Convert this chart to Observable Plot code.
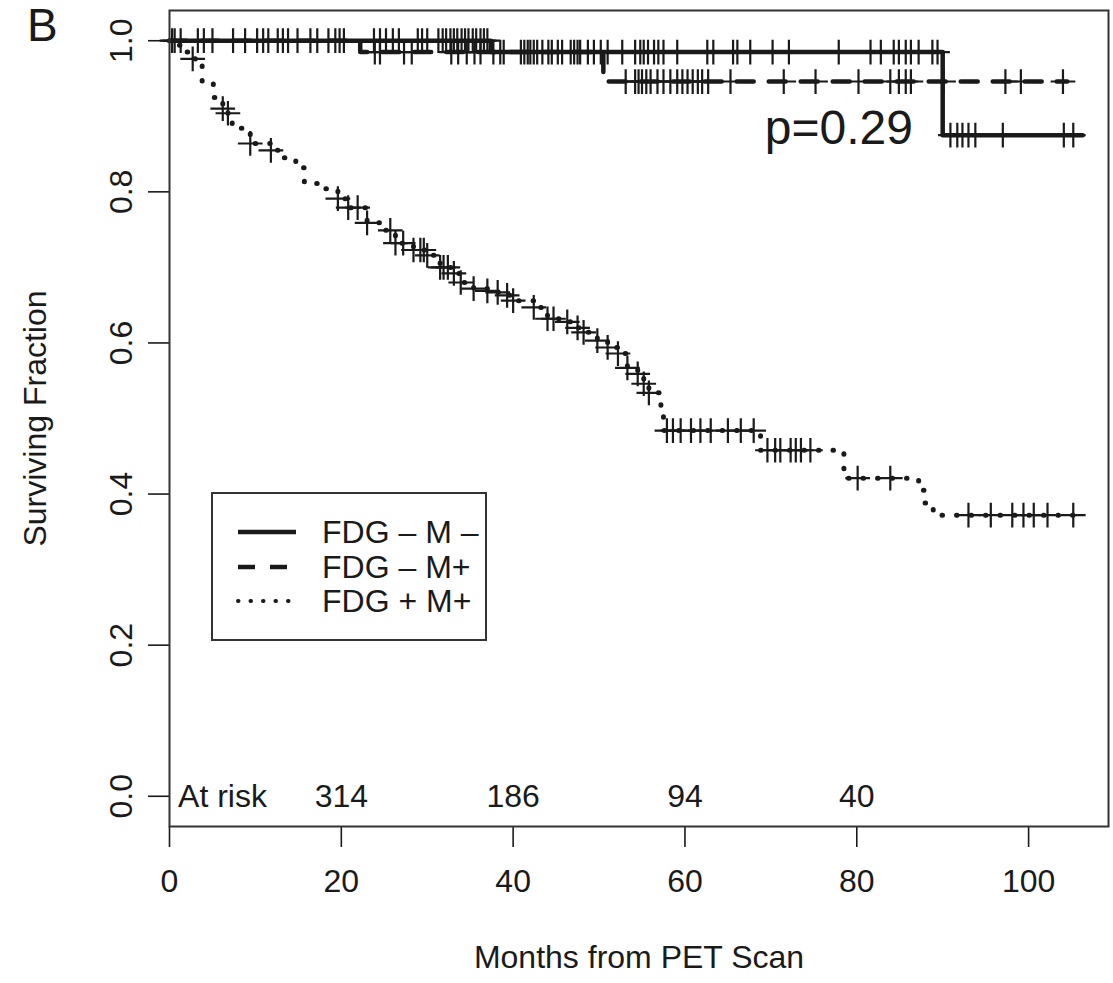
<!DOCTYPE html>
<html>
<head>
<meta charset="utf-8">
<script src="https://cdn.jsdelivr.net/npm/d3@7"></script>
<script src="https://cdn.jsdelivr.net/npm/@observablehq/plot@0.6"></script>
<style>
  body { margin: 0; background: #fff; }
  #wrap { position: relative; width: 1113px; height: 983px; font-family: "Liberation Sans", Arial, Helvetica, sans-serif; color: #1a1a1a; overflow: hidden; }
  #panel { position: absolute; left: 27px; top: 2px; font-size: 46px; line-height: 1; }
  #legend { position: absolute; left: 210px; top: 491px; overflow: visible; }
  #chart { position: absolute; left: 0; top: 0; }
</style>
</head>
<body>
<div id="wrap">
  <div id="chart"></div>
  <div id="panel">B</div>
  <svg id="legend" width="300" height="152"></svg>
</div>
<script>
// ---- Data ----
const xTicks = [0, 20, 40, 60, 80, 100];
const yTicks = [0.0, 0.2, 0.4, 0.6, 0.8, 1.0];

const groupNames = ["FDG \u2013 M \u2013", "FDG \u2013 M+", "FDG + M+"];

// FDG – M – (solid)
const solidTimes = [0, 37.4, 90.0, 106.3];
const solidSurv  = [1.0, 0.985, 0.875, 0.875];
const solidCensor = [0.3, 0.6, 1.3, 3.3, 4.0, 5.0, 7.4, 8.8, 10.2, 10.9, 11.5, 12.6, 13.2, 13.8, 14.9, 16.4, 17.2, 18.5, 19.3, 19.8, 20.3,
  23.8, 24.5, 25.2, 26.0, 26.7, 28.9, 29.4, 30.0, 31.3, 31.8, 32.2, 32.7, 33.1, 33.5, 34.0, 34.4, 34.8, 35.3, 35.7, 36.2, 36.6, 37.0,
  37.7, 38.5, 38.9, 40.9, 41.3, 41.7, 42.0, 42.4, 42.8, 43.4, 44.1, 44.5, 45.2, 45.7, 46.7, 47.1, 47.5, 47.8, 48.7, 49.4, 50.2, 51.0,
  52.7, 54.2, 54.8, 55.2, 55.7, 56.4, 56.9, 57.5, 59.1, 62.6, 63.3, 65.6, 66.1, 67.6, 70.2, 72.1, 77.9, 81.6, 82.8, 84.3, 84.9, 85.7,
  86.3, 87.2, 88.8, 89.4, 90.9, 91.7, 92.3, 93.0, 93.8, 97.0, 104.1, 105.2];

// FDG – M+ (dashed)
const dashTimes = [0, 22.2, 50.5, 104.5];
const dashSurv  = [1.0, 0.985, 0.946, 0.946];
const dashCensor = [23.9, 24.5, 27.3, 28.2, 32.8, 33.6, 34.6, 35.5, 36.2, 53.1, 54.2, 54.6, 55.0, 55.5, 56.0, 56.8, 57.5, 58.3, 59.1,
  59.7, 60.3, 60.9, 61.5, 62.0, 62.7, 65.3, 71.5, 75.2, 80.2, 83.9, 84.9, 85.7, 86.3, 90.1, 97.3, 99.1, 104.0];

// FDG + M+ (dotted)
const dotTimes = [0, 0.7, 1.5, 2.7, 3.0, 3.8, 5.1, 6.2, 6.8, 7.3, 9.4, 11.8, 12.9, 14.7, 15.7, 17.9, 19.6, 20.8, 23.0, 24.9, 26.3,
  28.4, 30.0, 31.5, 33.1, 33.9, 35.4, 37.0, 38.2, 39.3, 40.0, 42.4, 44.0, 45.5, 47.5, 48.2, 49.8, 51.0, 52.2, 53.3, 54.5, 55.2, 55.8,
  57.2, 57.5, 68.8, 78.5, 87.2, 87.9, 88.9, 106.4];
const dotSurv = [1.0, 0.994, 0.985, 0.976, 0.967, 0.945, 0.925, 0.910, 0.904, 0.884, 0.864, 0.855, 0.845, 0.832, 0.811, 0.804, 0.791,
  0.779, 0.759, 0.749, 0.732, 0.723, 0.716, 0.700, 0.692, 0.680, 0.672, 0.669, 0.667, 0.663, 0.656, 0.647, 0.632, 0.628, 0.620, 0.614,
  0.603, 0.594, 0.586, 0.567, 0.559, 0.546, 0.534, 0.513, 0.484, 0.458, 0.421, 0.405, 0.388, 0.372, 0.372];
const dotCensor = [2.7, 6.2, 6.8, 9.4, 11.8, 19.6, 20.8, 21.9, 23.0, 25.7, 26.3, 27.2, 28.4, 29.2, 29.6, 30.0, 31.5, 31.9, 32.4, 33.1,
  33.9, 35.4, 37.0, 38.2, 39.3, 40.0, 42.4, 44.0, 44.7, 46.3, 47.5, 48.2, 49.8, 51.0, 52.2, 53.3, 54.5, 55.2, 55.8, 57.9, 58.6, 59.5,
  60.7, 61.8, 63.0, 65.0, 66.5, 68.0, 69.6, 70.5, 71.1, 72.3, 72.9, 73.5, 74.6, 80.1, 83.9, 93.0, 95.6, 98.1, 99.4, 100.6, 102.2, 105.2];

const atRiskTimes  = [20, 40, 60, 80];
const atRiskCounts = [314, 186, 94, 40];
const pValueText = "p=0.29";

// ---- Build tables ----
const steps = (T, S) => T.map((t, i) => ({t, s: S[i]}));
const survAt = (T, S) => t => { let v = S[0]; for (let i = 0; i < T.length; i++) { if (T[i] <= t) v = S[i]; } return v; };
const cens = (C, T, S) => { const f = survAt(T, S); return C.map(t => ({t, s: f(t)})); };

const solid = steps(solidTimes, solidSurv);
const dashed = steps(dashTimes, dashSurv);
const dotted = steps(dotTimes, dotSurv);
const censAll = [
  ...cens(solidCensor, solidTimes, solidSurv),
  ...cens(dashCensor, dashTimes, dashSurv),
  ...cens(dotCensor, dotTimes, dotSurv)
];
const atRisk = atRiskTimes.map((t, i) => ({t, n: atRiskCounts[i]}));

const ink = "#1a1a1a";
const FONT = "'Liberation Sans', Arial, Helvetica, sans-serif";

const chart = Plot.plot({
  width: 1113,
  height: 983,
  marginLeft: 169,
  marginRight: 5,
  marginTop: 10,
  marginBottom: 157,
  x: {domain: [0, 109.3]},
  y: {domain: [-0.04, 1.04]},
  style: {fontFamily: FONT, fontSize: "32px", color: ink, background: "white", overflow: "visible"},
  marks: [
    Plot.axisX({ticks: xTicks, tickSize: 21, tickPadding: 22, tickFormat: d => String(d), label: null, strokeWidth: 1.6, fontSize: 32}),
    Plot.axisY({ticks: yTicks, tickSize: 21, tickFormat: () => "", label: null, strokeWidth: 1.6}),
    Plot.text(yTicks, {y: d => d, frameAnchor: "left", dx: -48, rotate: -90, text: d => d.toFixed(1), textAnchor: "middle", lineAnchor: "middle", fontSize: 32, fill: ink}),
    Plot.text(["Surviving Fraction"], {frameAnchor: "left", dx: -134, rotate: -90, textAnchor: "middle", lineAnchor: "middle", fontSize: 32, fill: ink}),
    Plot.text(["Months from PET Scan"], {frameAnchor: "bottom", dy: 131, textAnchor: "middle", lineAnchor: "middle", fontSize: 32, fill: ink}),
    Plot.line(solid, {x: "t", y: "s", curve: "step-after", stroke: ink, strokeWidth: 4.5}),
    Plot.line(dashed, {x: "t", y: "s", curve: "step-after", stroke: ink, strokeWidth: 4.5, strokeDasharray: "17,15"}),
    Plot.line(dotted, {x: "t", y: "s", curve: "step-after", stroke: ink, strokeWidth: 5, strokeLinecap: "round", strokeDasharray: "0.5,14"}),
    Plot.dot(censAll, {x: "t", y: "s", symbol: "plus", r: 8, stroke: ink, strokeWidth: 2.2}),
    Plot.text(atRisk, {x: "t", y: 0, text: d => String(d.n), textAnchor: "middle", lineAnchor: "middle", fontSize: 32, fill: ink}),
    Plot.text(["At risk"], {x: 1, y: 0, textAnchor: "start", lineAnchor: "middle", fontSize: 32, fill: ink}),
    Plot.text([pValueText], {x: 69.3, y: 0.883, textAnchor: "start", lineAnchor: "middle", fontSize: 48, fill: ink}),
    Plot.frame({stroke: "#333", strokeWidth: 2})
  ]
});
document.getElementById("chart").appendChild(chart);

// ---- Legend ----
const lg = d3.select("#legend");
lg.append("rect").attr("x", 2).attr("y", 2).attr("width", 274).attr("height", 147)
  .attr("fill", "white").attr("stroke", "#333").attr("stroke-width", 2);
const dashes = [null, "17,15", "0.5,12"];
const caps = ["butt", "butt", "round"];
const widths = [4.5, 4.5, 4];
const rowY = [41, 76, 110];
groupNames.forEach((name, i) => {
  lg.append("line").attr("x1", 28).attr("x2", 86).attr("y1", rowY[i]).attr("y2", rowY[i])
    .attr("stroke", ink).attr("stroke-width", widths[i]).attr("stroke-linecap", caps[i]).attr("stroke-dasharray", dashes[i]);
  lg.append("text").attr("x", 112).attr("y", rowY[i]).attr("dy", "0.35em")
    .attr("font-family", FONT).attr("font-size", 32).attr("fill", ink).text(name);
});
</script>
</body>
</html>
